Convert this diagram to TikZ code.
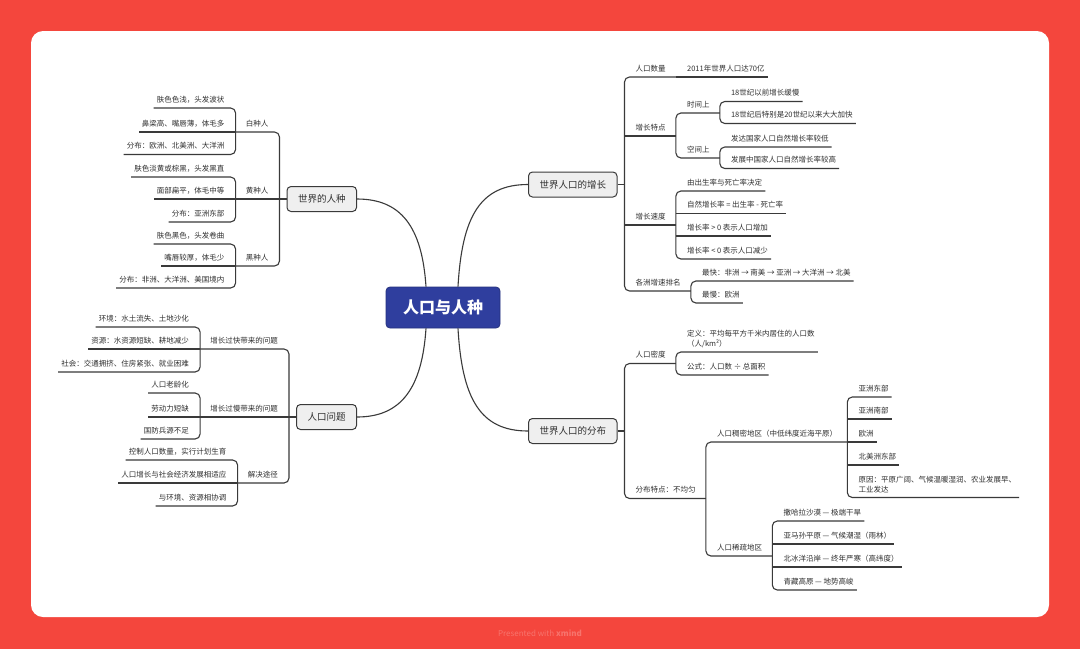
\documentclass[tikz,border=0pt]{standalone}
\usepackage{fontspec}
\setmainfont{Noto Sans CJK SC}
\definecolor{bgred}{HTML}{F4463D}
\definecolor{coreblue}{HTML}{2F3E9E}
\definecolor{wire}{HTML}{3A3A3A}
\definecolor{ink}{HTML}{303030}
\definecolor{topicgray}{HTML}{EFEFEF}
\tikzset{
  link/.style={draw=wire, line width=1.1pt, rounded corners=5pt},
  branchcurve/.style={draw=wire, line width=1.1pt},
  central/.style={fill=coreblue, draw=coreblue!80!black, line width=0.8pt, rounded corners=4pt,
    text=white, font=\fontsize{16}{18}\selectfont\bfseries, minimum width=114pt, minimum height=41pt},
  topic/.style={fill=topicgray, draw=wire, line width=1pt, rounded corners=4pt, text=ink,
    font=\fontsize{9.5}{11}\selectfont, minimum height=25pt, inner xsep=11pt},
  sub/.style={text=ink, font=\fontsize{7.5}{10}\selectfont, inner xsep=3pt, inner ysep=0pt,
    text height=6pt, text depth=5.6pt},
  subm/.style={text=ink, font=\fontsize{7.5}{10}\selectfont, align=left, inner xsep=3pt, inner ysep=4.4pt},
  rt/.style={anchor=south west, xshift=8pt},
  lt/.style={anchor=south east, xshift=-8pt},
}
\begin{document}
\begin{tikzpicture}[x=1pt,y=-1pt]
  % page and card
  \fill[bgred] (0,0) rectangle (1080,649);
  \fill[white, rounded corners=12pt] (31,31) rectangle (1049,617);
  \node[text=white!25!bgred, font=\fontsize{8}{10}\selectfont] (credit) at (540,633) {Presented with \textbf{xmind}};

  % main topics
  \node[central] (core) at (443,307.5) {人口与人种};
  \node[topic, anchor=west] (za) at (528,184.5) {世界人口的增长};
  \node[topic, anchor=west] (zb) at (528,431) {世界人口的分布};
  \node[topic, anchor=east] (zc) at (357,199) {世界的人种};
  \node[topic, anchor=east] (zd) at (357,417) {人口问题};
  \draw[branchcurve] ([xshift=15pt]core.north) .. controls +(4,-70) and +(-48,0) .. (za.west);
  \draw[branchcurve] ([xshift=15pt]core.south) .. controls +(4,70) and +(-48,0) .. (zb.west);
  \draw[branchcurve] ([xshift=-17pt]core.north) .. controls +(-4,-60) and +(44,0) .. (zc.east);
  \draw[branchcurve] ([xshift=-17pt]core.south) .. controls +(-4,60) and +(44,0) .. (zd.east);
  \coordinate (za-e) at ([xshift=7pt]za.east);
  \coordinate (zb-e) at ([xshift=7pt]zb.east);
  \coordinate (zc-e) at ([xshift=-7pt]zc.west);
  \coordinate (zd-e) at ([xshift=-7pt]zd.west);

  % world population growth
  \node[sub, rt] (a1) at (za-e |- 0,77) {人口数量};
  \coordinate (a1-e) at ([xshift=7pt]a1.south east);
  \node[sub, rt] (a11) at (a1-e |- 0,77) {2011年世界人口达70亿};
  \node[sub, rt] (a2) at (za-e |- 0,136) {增长特点};
  \coordinate (a2-e) at ([xshift=7pt]a2.south east);
  \node[sub, rt] (a21) at (a2-e |- 0,113) {时间上};
  \coordinate (a21-e) at ([xshift=7pt]a21.south east);
  \node[sub, rt] (a211) at (a21-e |- 0,101.5) {18世纪以前增长缓慢};
  \node[sub, rt] (a212) at (a21-e |- 0,123.5) {18世纪后特别是20世纪以来大大加快};
  \node[sub, rt] (a22) at (a2-e |- 0,158) {空间上};
  \coordinate (a22-e) at ([xshift=7pt]a22.south east);
  \node[sub, rt] (a221) at (a22-e |- 0,147) {发达国家人口自然增长率较低};
  \node[sub, rt] (a222) at (a22-e |- 0,168.5) {发展中国家人口自然增长率较高};
  \node[sub, rt] (a3) at (za-e |- 0,225) {增长速度};
  \coordinate (a3-e) at ([xshift=7pt]a3.south east);
  \node[sub, rt] (a31) at (a3-e |- 0,191) {由出生率与死亡率决定};
  \node[sub, rt] (a32) at (a3-e |- 0,213.5) {自然增长率 = 出生率 - 死亡率};
  \node[sub, rt] (a33) at (a3-e |- 0,236) {增长率 > 0 表示人口增加};
  \node[sub, rt] (a34) at (a3-e |- 0,259) {增长率 < 0 表示人口减少};
  \node[sub, rt] (a4) at (za-e |- 0,291) {各洲增速排名};
  \coordinate (a4-e) at ([xshift=7pt]a4.south east);
  \node[sub, rt] (a41) at (a4-e |- 0,281) {最快：非洲 → 南美 → 亚洲 → 大洋洲 → 北美};
  \node[sub, rt] (a42) at (a4-e |- 0,303) {最慢：欧洲};
  \draw[link] (za.east) -- (za-e);
  \draw[link] (a1-e) -| (za-e) |- (a4-e);
  \draw[link] (za-e |- a2-e) -- (a2-e);
  \draw[link] (za-e |- a3-e) -- (a3-e);
  \draw[link] (a1-e) -- (a11.south east);
  \draw[link] (a21-e) -| (a2-e) |- (a22-e);
  \draw[link] (a211.south east) -| (a21-e) |- (a212.south east);
  \draw[link] (a221.south east) -| (a22-e) |- (a222.south east);
  \draw[link] (a31.south east) -| (a3-e) |- (a34.south east);
  \draw[link] (a3-e |- a32.south) -- (a32.south east);
  \draw[link] (a3-e |- a33.south) -- (a33.south east);
  \draw[link] (a41.south east) -| (a4-e) |- (a42.south east);

  % world population distribution
  \node[sub, rt] (b1) at (zb-e |- 0,363.5) {人口密度};
  \coordinate (b1-e) at ([xshift=7pt]b1.south east);
  \node[subm, rt] (b11) at (b1-e |- 0,352) {定义：平均每平方千米内居住的人口数\\（人/km²）};
  \node[sub, rt] (b12) at (b1-e |- 0,375) {公式：人口数 ÷ 总面积};
  \node[sub, rt] (b2) at (zb-e |- 0,498.5) {分布特点：不均匀};
  \coordinate (b2-e) at ([xshift=7pt]b2.south east);
  \node[sub, rt] (b21) at (b2-e |- 0,442) {人口稠密地区（中低纬度近海平原）};
  \coordinate (b21-e) at ([xshift=7pt]b21.south east);
  \node[sub, rt] (b211) at (b21-e |- 0,397) {亚洲东部};
  \node[sub, rt] (b212) at (b21-e |- 0,419) {亚洲南部};
  \node[sub, rt] (b213) at (b21-e |- 0,442) {欧洲};
  \node[sub, rt] (b214) at (b21-e |- 0,465) {北美洲东部};
  \node[subm, rt] (b215) at (b21-e |- 0,497.5) {原因：平原广阔、气候温暖湿润、农业发展早、\\工业发达};
  \node[sub, rt] (b22) at (b2-e |- 0,556) {人口稀疏地区};
  \coordinate (b22-e) at ([xshift=7pt]b22.south east);
  \node[sub, rt] (b221) at (b22-e |- 0,521) {撒哈拉沙漠 — 极端干旱};
  \node[sub, rt] (b222) at (b22-e |- 0,544) {亚马孙平原 — 气候潮湿（雨林）};
  \node[sub, rt] (b223) at (b22-e |- 0,567) {北冰洋沿岸 — 终年严寒（高纬度）};
  \node[sub, rt] (b224) at (b22-e |- 0,590) {青藏高原 — 地势高峻};
  \draw[link] (zb.east) -- (zb-e);
  \draw[link] (b1-e) -| (zb-e) |- (b2-e);
  \draw[link] (b11.south east) -| (b1-e) |- (b12.south east);
  \draw[link] (b21-e) -| (b2-e) |- (b22-e);
  \draw[link] (b211.south east) -| (b21-e) |- (b215.south east);
  \draw[link] (b21-e |- b212.south) -- (b212.south east);
  \draw[link] (b21-e) -- (b213.south east);
  \draw[link] (b21-e |- b214.south) -- (b214.south east);
  \draw[link] (b221.south east) -| (b22-e) |- (b224.south east);
  \draw[link] (b22-e |- b222.south) -- (b222.south east);
  \draw[link] (b22-e |- b223.south) -- (b223.south east);

  % human races
  \node[sub, lt] (c1) at (zc-e |- 0,132) {白种人};
  \coordinate (c1-e) at ([xshift=-7pt]c1.south west);
  \node[sub, lt] (c11) at (c1-e |- 0,108) {肤色色浅，头发波状};
  \node[sub, lt] (c12) at (c1-e |- 0,132) {鼻梁高、嘴唇薄，体毛多};
  \node[sub, lt] (c13) at (c1-e |- 0,154.5) {分布：欧洲、北美洲、大洋洲};
  \node[sub, lt] (c2) at (zc-e |- 0,199) {黄种人};
  \coordinate (c2-e) at ([xshift=-7pt]c2.south west);
  \node[sub, lt] (c21) at (c2-e |- 0,177) {肤色淡黄或棕黑，头发黑直};
  \node[sub, lt] (c22) at (c2-e |- 0,199) {面部扁平，体毛中等};
  \node[sub, lt] (c23) at (c2-e |- 0,222) {分布：亚洲东部};
  \node[sub, lt] (c3) at (zc-e |- 0,266) {黑种人};
  \coordinate (c3-e) at ([xshift=-7pt]c3.south west);
  \node[sub, lt] (c31) at (c3-e |- 0,244) {肤色黑色，头发卷曲};
  \node[sub, lt] (c32) at (c3-e |- 0,266) {嘴唇较厚，体毛少};
  \node[sub, lt] (c33) at (c3-e |- 0,288) {分布：非洲、大洋洲、美国境内};
  \draw[link] (zc.west) -- (zc-e);
  \draw[link] (c1-e) -| (zc-e) |- (c3-e);
  \draw[link] (zc-e) -- (c2-e);
  \draw[link] (c11.south west) -| (c1-e) |- (c13.south west);
  \draw[link] (c1-e) -- (c12.south west);
  \draw[link] (c21.south west) -| (c2-e) |- (c23.south west);
  \draw[link] (c2-e) -- (c22.south west);
  \draw[link] (c31.south west) -| (c3-e) |- (c33.south west);
  \draw[link] (c3-e) -- (c32.south west);

  % population problems
  \node[sub, lt] (d1) at (zd-e |- 0,349) {增长过快带来的问题};
  \coordinate (d1-e) at ([xshift=-7pt]d1.south west);
  \node[sub, lt] (d11) at (d1-e |- 0,327) {环境：水土流失、土地沙化};
  \node[sub, lt] (d12) at (d1-e |- 0,349) {资源：水资源短缺、耕地减少};
  \node[sub, lt] (d13) at (d1-e |- 0,372) {社会：交通拥挤、住房紧张、就业困难};
  \node[sub, lt] (d2) at (zd-e |- 0,417) {增长过慢带来的问题};
  \coordinate (d2-e) at ([xshift=-7pt]d2.south west);
  \node[sub, lt] (d21) at (d2-e |- 0,393) {人口老龄化};
  \node[sub, lt] (d22) at (d2-e |- 0,417) {劳动力短缺};
  \node[sub, lt] (d23) at (d2-e |- 0,439) {国防兵源不足};
  \node[sub, lt] (d3) at (zd-e |- 0,483) {解决途径};
  \coordinate (d3-e) at ([xshift=-7pt]d3.south west);
  \node[sub, lt] (d31) at (d3-e |- 0,460) {控制人口数量，实行计划生育};
  \node[sub, lt] (d32) at (d3-e |- 0,483) {人口增长与社会经济发展相适应};
  \node[sub, lt] (d33) at (d3-e |- 0,506) {与环境、资源相协调};
  \draw[link] (zd.west) -- (zd-e);
  \draw[link] (d1-e) -| (zd-e) |- (d3-e);
  \draw[link] (zd-e) -- (d2-e);
  \draw[link] (d11.south west) -| (d1-e) |- (d13.south west);
  \draw[link] (d1-e) -- (d12.south west);
  \draw[link] (d21.south west) -| (d2-e) |- (d23.south west);
  \draw[link] (d2-e) -- (d22.south west);
  \draw[link] (d31.south west) -| (d3-e) |- (d33.south west);
  \draw[link] (d3-e) -- (d32.south west);
\end{tikzpicture}
\end{document}
